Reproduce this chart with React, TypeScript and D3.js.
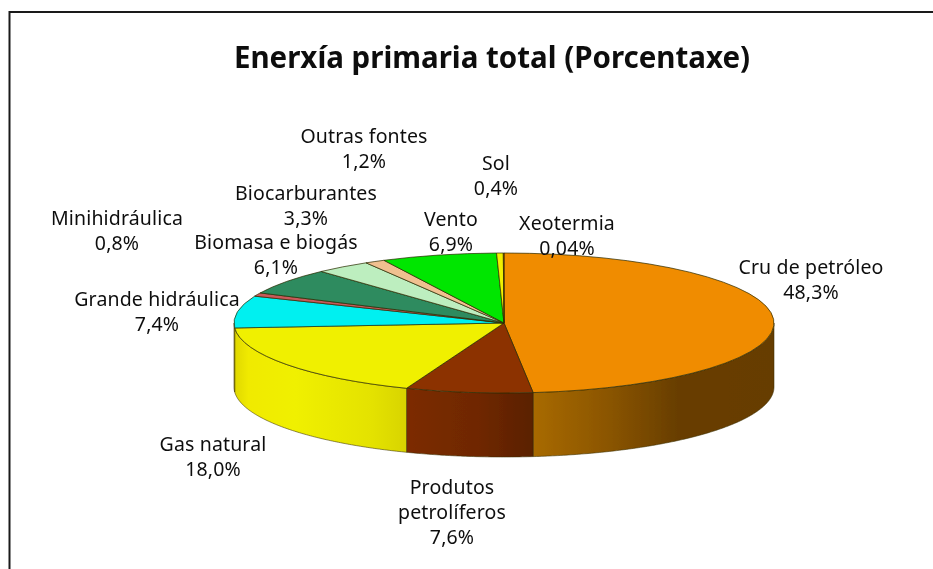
import React from "react";
import * as d3 from "d3";

const categories = ["Cru de petróleo", "Produtos petrolíferos", "Gas natural", "Grande hidráulica", "Minihidráulica", "Biomasa e biogás", "Biocarburantes", "Outras fontes", "Vento", "Sol", "Xeotermia"];
const values = [48.3, 7.6, 18.0, 7.4, 0.8, 6.1, 3.3, 1.2, 6.9, 0.4, 0.04];
const valueLabels = ["48,3%", "7,6%", "18,0%", "7,4%", "0,8%", "6,1%", "3,3%", "1,2%", "6,9%", "0,4%", "0,04%"];
const topColors = ["#f08c00", "#8c3200", "#f0f000", "#00f0f0", "#c85a5a", "#2e8b5e", "#bdeebf", "#f0c090", "#00e600", "#f0f000", "#f08c00"];

// label anchors: [centre x, first baseline]; lines are wrapped as in the reference
const labelLines = [["Cru de petróleo"], ["Produtos", "petrolíferos"], ["Gas natural"], ["Grande hidráulica"], ["Minihidráulica"], ["Biomasa e biogás"], ["Biocarburantes"], ["Outras fontes"], ["Vento"], ["Sol"], ["Xeotermia"]];
const labelAnchors = [[811, 274], [452, 494], [213, 451], [157, 306], [117, 225], [276, 249], [306, 200], [364, 143], [451, 226], [496, 170], [567, 230]];

// horizontal shading of the wall, [offset, colour] for the visible front slices
const wallStops: Record<number, [number, string][]> = {
  0: [[0, "#a86a00"], [0.3, "#8c5600"], [0.6, "#683e00"], [1, "#663c00"]],
  1: [[0, "#7c2c00"], [0.6, "#6e2700"], [1, "#5a2000"]],
  2: [[0, "#e0d800"], [0.08, "#f0ea00"], [0.35, "#f0f000"], [0.8, "#e4e200"], [1, "#d8d400"]],
  3: [[0, "#e0d800"], [1, "#e0d800"]],
};

const WIDTH = 933, HEIGHT = 569;
const cx = 504, cy = 323, rx = 270, ry = 70, depth = 64;

const pie = d3.pie<number>().sort(null).startAngle(0).endAngle(2 * Math.PI);
const arcs = pie(values);
const arc = d3.arc<d3.PieArcDatum<number>>().innerRadius(0).outerRadius(rx);

const wall = d3.area<number>()
  .x((a) => cx + rx * Math.sin(a))
  .y0((a) => cy - ry * Math.cos(a))
  .y1((a) => cy - ry * Math.cos(a) + depth);

function wallAngles(start: number, end: number) {
  const a0 = Math.max(start, Math.PI / 2);
  const a1 = Math.min(end, (3 * Math.PI) / 2);
  if (a1 <= a0) return null;
  return [...d3.range(a0, a1, 0.01), a1];
}

const FONT = "'Noto Sans', sans-serif";

export default function App() {
  const walls = arcs
    .map((d, i) => ({ i, angles: wallAngles(d.startAngle, d.endAngle) }))
    .filter((w) => w.angles);
  return (
    <svg width={WIDTH} height={HEIGHT} style={{ position: "absolute", left: 0, top: 0, background: "#fff" }}>
      <defs>
        <filter id="soft" x="-5%" y="-5%" width="110%" height="110%">
          <feGaussianBlur stdDeviation="0.4" />
        </filter>
        {walls.map(({ i, angles }) => {
          const xs = angles!.map((a) => cx + rx * Math.sin(a));
          return (
            <linearGradient key={i} id={`wall${i}`} gradientUnits="userSpaceOnUse" x1={d3.min(xs)} x2={d3.max(xs)} y1={0} y2={0}>
              {(wallStops[i] ?? [[0, topColors[i]]]).map(([o, c]) => (
                <stop key={o} offset={o} stopColor={c} />
              ))}
            </linearGradient>
          );
        })}
      </defs>
      <path d={`M${WIDTH},12H9.5V${HEIGHT}`} fill="none" stroke="#1a1a1a" strokeWidth={2} />
      <g filter="url(#soft)">
        {walls.map(({ i, angles }) => (
          <path key={i} d={wall(angles!)!} fill={`url(#wall${i})`} stroke="#3a3000" strokeOpacity={0.55} strokeWidth={1} />
        ))}
        <g transform={`translate(${cx},${cy}) scale(1,${ry / rx})`}>
          {arcs.map((d, i) => (
            <path key={i} d={arc(d)!} fill={topColors[i]} stroke="#2a2a00" strokeOpacity={0.7} strokeWidth={1} vectorEffect="non-scaling-stroke" />
          ))}
        </g>
      </g>
      <g fontFamily={FONT} fill="#111" filter="url(#soft)">
        <text x={492} y={68} textAnchor="middle" fontSize={29.5} fontWeight={700}>Enerxía primaria total (Porcentaxe)</text>
        {categories.map((c, i) => {
          const lines = [...labelLines[i], valueLabels[i]];
          return (
            <text key={c} textAnchor="middle" fontSize={19.5} letterSpacing={0.15}>
              {lines.map((l, j) => (
                <tspan key={j} x={labelAnchors[i][0]} y={labelAnchors[i][1] + j * 25}>{l}</tspan>
              ))}
            </text>
          );
        })}
      </g>
    </svg>
  );
}
